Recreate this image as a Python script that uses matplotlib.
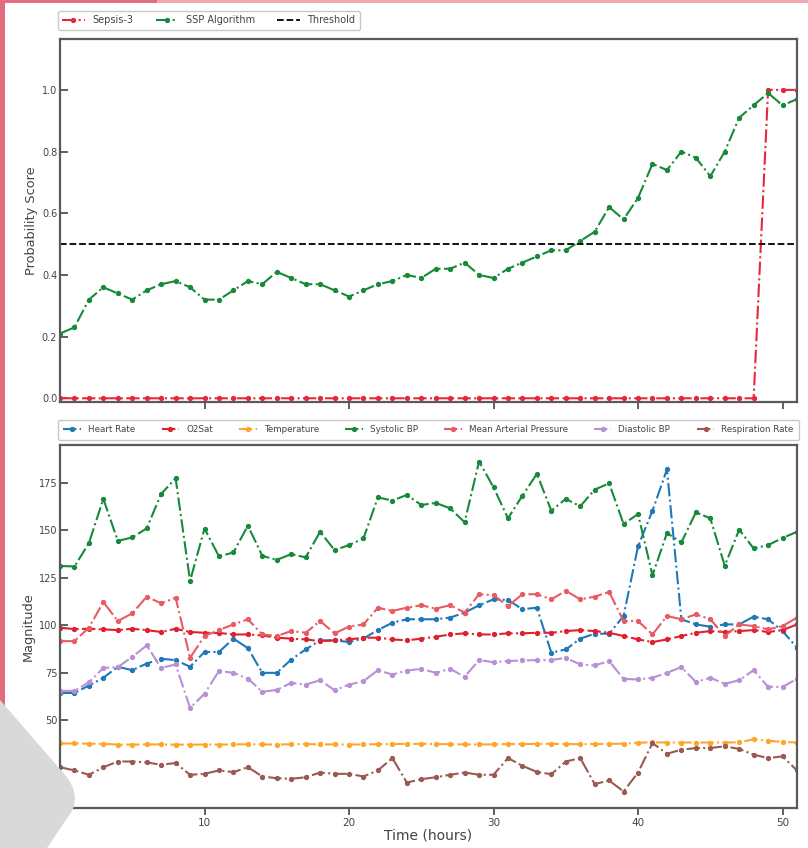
import matplotlib
matplotlib.use("Agg")
import matplotlib.pyplot as plt
from matplotlib.path import Path
from matplotlib.patches import PathPatch, Rectangle

# ---- data -------------------------------------------------------------
hours = list(range(52))

ssp_algorithm = [0.21, 0.23, 0.32, 0.36, 0.34, 0.32, 0.35, 0.37, 0.38, 0.36,
                 0.32, 0.32, 0.35, 0.38, 0.37, 0.41, 0.39, 0.37, 0.37, 0.35,
                 0.33, 0.35, 0.37, 0.38, 0.40, 0.39, 0.42, 0.42, 0.44, 0.40,
                 0.39, 0.42, 0.44, 0.46, 0.48, 0.48, 0.51, 0.54, 0.62, 0.58,
                 0.65, 0.76, 0.74, 0.80, 0.78, 0.72, 0.80, 0.91, 0.95, 0.99,
                 0.95, 0.97]

sepsis3 = [0, 0, 0, 0, 0, 0, 0, 0, 0, 0,
           0, 0, 0, 0, 0, 0, 0, 0, 0, 0,
           0, 0, 0, 0, 0, 0, 0, 0, 0, 0,
           0, 0, 0, 0, 0, 0, 0, 0, 0, 0,
           0, 0, 0, 0, 0, 0, 0, 0, 0, 1,
           1, 1]

threshold = 0.5

heart_rate = [64.4, 64.4, 68.3, 72.4, 78.2, 76.4, 79.9, 82.4, 81.7, 78.2,
              86.0, 86.0, 93.0, 88.0, 75.0, 75.0, 82.0, 87.3, 92.1, 92.1,
              91.2, 93.1, 97.5, 101.4, 103.2, 103.2, 103.2, 104.1, 106.7, 110.6,
              113.7, 113.4, 108.5, 109.3, 85.6, 87.3, 93.0, 95.6, 95.6, 104.9,
              141.6, 160.4, 182.1, 103.2, 100.5, 99.3, 100.5, 100.5, 104.6, 103.2,
              97.0, 88.2]

o2sat = [98.8, 98.0, 98.2, 97.9, 97.5, 98.2, 97.5, 96.5, 98.2, 96.5,
         96.1, 96.0, 95.2, 95.2, 94.7, 93.5, 93.0, 92.6, 91.7, 92.1,
         92.6, 93.5, 93.5, 92.6, 92.1, 93.0, 94.0, 95.2, 95.8, 95.2,
         95.2, 95.8, 95.8, 96.1, 96.1, 97.0, 97.5, 97.0, 96.1, 94.4,
         92.6, 91.2, 92.6, 94.4, 96.1, 97.0, 96.5, 97.0, 97.5, 96.5,
         97.5, 100.5]

temperature = [37.8, 37.8, 37.7, 37.6, 37.2, 37.2, 37.3, 37.3, 37.2, 37.2,
               37.2, 37.2, 37.3, 37.4, 37.3, 37.2, 37.4, 37.5, 37.3, 37.3,
               37.2, 37.3, 37.4, 37.5, 37.6, 37.6, 37.5, 37.4, 37.3, 37.3,
               37.3, 37.5, 37.5, 37.6, 37.6, 37.5, 37.4, 37.5, 37.6, 37.7,
               38.2, 38.4, 38.3, 38.3, 38.3, 38.3, 38.3, 38.4, 40.0, 39.2,
               38.6, 38.3]

systolic_bp = [131.3, 131.0, 143.3, 166.6, 144.5, 146.3, 151.1, 169.2, 177.5, 123.4,
               151.0, 136.3, 138.4, 152.5, 136.6, 134.5, 137.5, 135.8, 149.3, 139.6,
               142.3, 145.8, 167.4, 165.7, 168.7, 163.4, 164.5, 161.6, 154.3, 186.3,
               172.7, 156.4, 168.3, 179.8, 160.4, 166.6, 162.7, 171.5, 174.8, 153.4,
               158.6, 126.4, 148.6, 143.7, 159.5, 156.4, 131.4, 150.4, 140.5, 142.3,
               146.0, 149.3]

mean_arterial_pressure = [91.7, 91.7, 98.8, 112.3, 102.3, 106.3, 115.1, 111.6, 114.6, 82.9,
                          94.4, 97.5, 100.5, 103.2, 95.2, 94.4, 97.0, 96.1, 102.3, 95.8,
                          99.3, 100.5, 109.3, 107.6, 109.3, 110.6, 108.8, 110.6, 106.7, 116.4,
                          115.9, 110.2, 116.4, 116.4, 113.7, 118.2, 113.7, 115.1, 117.6, 102.3,
                          102.3, 95.2, 104.9, 103.2, 105.8, 103.2, 94.4, 100.5, 99.6, 97.9,
                          99.6, 104.1]

diastolic_bp = [65.5, 65.5, 70.0, 77.6, 78.0, 83.4, 89.4, 77.6, 79.4, 56.5,
                64.0, 76.0, 75.0, 72.0, 65.0, 66.0, 69.7, 68.8, 71.1, 65.8,
                68.8, 70.6, 76.4, 74.1, 76.2, 77.1, 75.0, 77.1, 72.9, 81.7,
                80.6, 81.2, 81.5, 81.7, 81.7, 82.9, 79.4, 78.9, 81.2, 71.8,
                71.5, 72.4, 75.0, 78.0, 70.2, 72.4, 69.2, 71.1, 76.4, 67.6,
                67.6, 71.8]

respiration_rate = [25.3, 23.6, 21.3, 25.3, 28.3, 28.3, 27.8, 26.6, 27.5, 21.3,
                    21.8, 23.6, 22.7, 25.3, 20.4, 19.5, 19.2, 20.0, 22.5, 21.8,
                    21.8, 20.4, 23.6, 30.1, 17.2, 19.0, 20.0, 21.3, 22.5, 21.3,
                    21.3, 30.1, 26.0, 22.8, 21.6, 28.3, 30.1, 16.4, 18.3, 12.5,
                    22.5, 38.0, 32.4, 34.5, 35.4, 35.4, 36.3, 34.9, 31.9, 30.1,
                    31.0, 23.6]

x_ticks = [10, 20, 30, 40, 50]
prob_ticks = [0.0, 0.2, 0.4, 0.6, 0.8, 1.0]
mag_ticks = [50, 75, 100, 125, 150, 175]

# ---- style ------------------------------------------------------------
plt.rcParams["font.family"] = ["DejaVu Sans"]
TEXT = "#444444"
SPINE = "#5a5a5a"
GREEN = "#178a3a"
line_kw = dict(linestyle="-.", marker="o", markersize=2.8, linewidth=1.5)

fig = plt.figure(figsize=(8.08, 8.48), dpi=100)
W, H = 808, 848


def frac(x0, y0, x1, y1):
    return [x0 / W, 1 - y1 / H, (x1 - x0) / W, (y1 - y0) / H]


ax1 = fig.add_axes(frac(60, 39, 797, 402))
ax2 = fig.add_axes(frac(60, 445, 797, 808), sharex=ax1)

# ---- probability panel --------------------------------------------------
ax1.plot(hours, sepsis3, color="#e6283c", label="Sepsis-3", **line_kw)
ax1.plot(hours, ssp_algorithm, color=GREEN, label="SSP Algorithm", **line_kw)
ax1.axhline(threshold, color="black", linestyle="--", linewidth=1.3,
            label="Threshold")
ax1.set_ylim(-0.012, 1.165)
ax1.set_yticks(prob_ticks)
ax1.set_ylabel("Probability Score", fontsize=9.3, color=TEXT, labelpad=3)
ax1.tick_params(axis="x", labelbottom=False)
ax1.legend(loc="lower left", bbox_to_anchor=(-0.003, 1.026), ncol=3,
           fontsize=7, frameon=True, borderaxespad=0.0, borderpad=0.45,
           edgecolor="#bbbbbb", labelcolor=TEXT, columnspacing=2.3,
           handlelength=2.3)

# ---- vitals panel -------------------------------------------------------
ax2.plot(hours, heart_rate, color="#1f78b8", label="Heart Rate", **line_kw)
ax2.plot(hours, o2sat, color="#e0202e", label="O2Sat", **line_kw)
ax2.plot(hours, temperature, color="#ffa528", label="Temperature", **line_kw)
ax2.plot(hours, systolic_bp, color=GREEN, label="Systolic BP", **line_kw)
ax2.plot(hours, mean_arterial_pressure, color="#ea5a62",
         label="Mean Arterial Pressure", **line_kw)
ax2.plot(hours, diastolic_bp, color="#b98fd6", label="Diastolic BP", **line_kw)
ax2.plot(hours, respiration_rate, color="#9a5a50", label="Respiration Rate",
         **line_kw)
ax2.set_yticks(mag_ticks)
ax2.set_ylabel("Magnitude", fontsize=9.3, color=TEXT, labelpad=3)
ax2.set_xlabel("Time (hours)", fontsize=10, color=TEXT, labelpad=0.5)
ax2.legend(loc="lower left", bbox_to_anchor=(-0.003, 1.014, 1.006, 0.05),
           mode="expand", ncol=7, fontsize=6.3, frameon=True,
           borderaxespad=0.0, borderpad=0.65, edgecolor="#bbbbbb",
           labelcolor=TEXT)

ax1.set_xlim(0, 51)
ax1.set_xticks(x_ticks)

for ax in (ax1, ax2):
    for s in ax.spines.values():
        s.set_color(SPINE)
        s.set_linewidth(1.6)
    ax.tick_params(axis="y", direction="in", length=6, width=1.2,
                   labelsize=7, colors=TEXT, pad=2)
    ax.tick_params(axis="x", direction="out", length=5, width=1.2,
                   labelsize=7.5, colors=TEXT, pad=2)

# ---- page decoration ----------------------------------------------------
fig.patches.append(Rectangle((0, 1 - 3 / H), 157 / W, 3 / H,
                             transform=fig.transFigure, facecolor="#e36d80",
                             edgecolor="none", zorder=5))
fig.patches.append(Rectangle((157 / W, 1 - 3 / H), 1 - 157 / W, 3 / H,
                             transform=fig.transFigure, facecolor="#f2a7b1",
                             edgecolor="none", zorder=5))
fig.patches.append(Rectangle((0, 1 - 710 / H), 5 / W, 710 / H,
                             transform=fig.transFigure, facecolor="#e36d80",
                             edgecolor="none", zorder=5))

pts = [(0, 700), (66, 776), (80, 794), (72, 811), (47, 848), (0, 848), (0, 700)]
codes = [Path.MOVETO, Path.LINETO, Path.CURVE3, Path.CURVE3, Path.LINETO,
         Path.LINETO, Path.CLOSEPOLY]
shape = Path([(x / W, 1 - y / H) for x, y in pts], codes)
fig.patches.append(PathPatch(shape, transform=fig.transFigure,
                             facecolor="#d9d9d9", edgecolor="none", zorder=10))

fig.savefig("out.png", dpi=100)
